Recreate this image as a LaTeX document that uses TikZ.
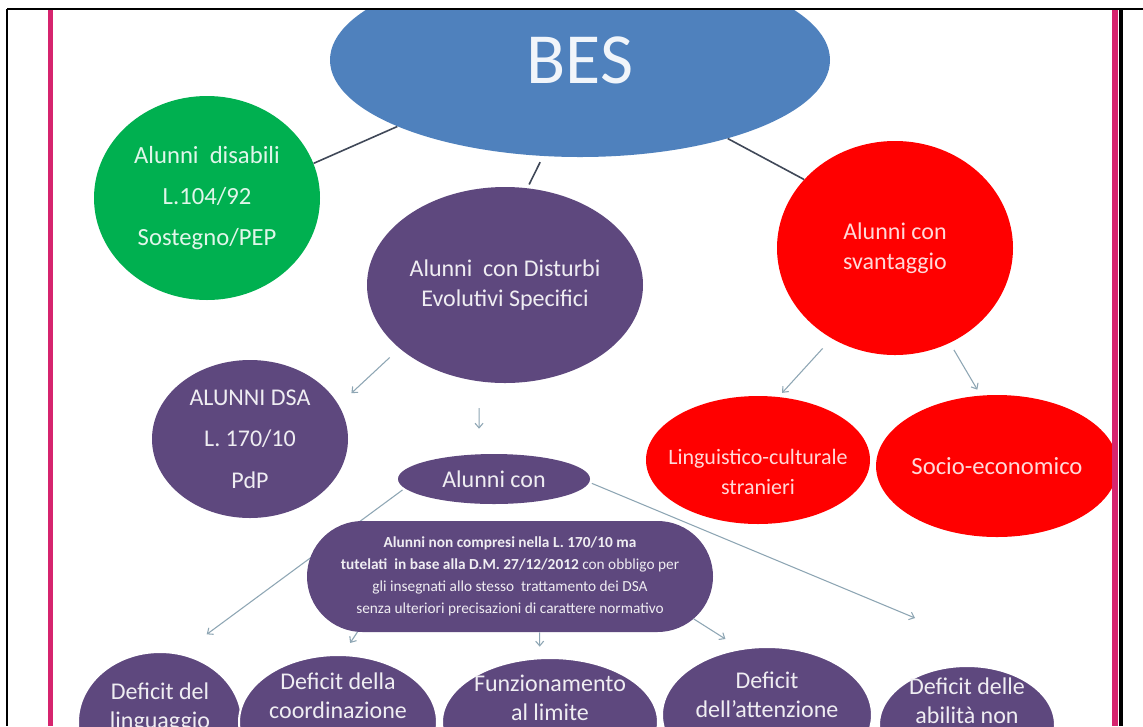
\documentclass[tikz,border=0pt]{standalone}
\usepackage{fontspec}
\setmainfont{Carlito}
\usetikzlibrary{shapes.geometric,shapes.misc,arrows.meta}

\definecolor{besblue}{RGB}{79,129,189}
\definecolor{besgreen}{RGB}{0,176,80}
\definecolor{bespurple}{RGB}{94,72,126}
\definecolor{besred}{RGB}{255,0,0}
\definecolor{framepink}{RGB}{214,36,110}
\definecolor{linkgray}{RGB}{64,72,88}
\definecolor{arrowgray}{RGB}{142,166,180}

\tikzset{
  bubble/.style={ellipse, inner sep=0pt, align=center, font=\fontsize{18}{22.5}\selectfont},
  purplebubble/.style={bubble, fill=bespurple, text=white!90!bespurple},
  redbubble/.style={bubble, fill=besred, text=white!85!besred},
  deficit/.style={purplebubble, draw=white, line width=1.5pt},
  lbl/.style={align=center, font=\fontsize{18}{22}\selectfont, text=white!90!bespurple},
  normbox/.style={rounded rectangle, inner sep=0pt, fill=bespurple, align=center,
    text=white!90!bespurple, font=\fontsize{11.5}{16.5}\selectfont},
  link/.style={draw=linkgray, line width=1.2pt},
  arr/.style={draw=arrowgray, line width=0.8pt, -{Straight Barb[length=3.5pt,width=6pt]}},
}

\begin{document}
\begin{tikzpicture}[x=0.75pt, y=-0.75pt]
  \useasboundingbox (0,0) rectangle (1143,726);
  \fill[white] (0,0) rectangle (1143,726);

  \begin{scope}
    \clip (7,9) rectangle (1121,726);

    \node[bubble, fill=besblue, text=white!92!besblue, minimum width=375pt, minimum height=145.5pt,
          font=\fontsize{54}{60}\selectfont] (bes) at (580,60) {BES};
    \node[bubble, fill=besgreen, text=white!88!besgreen, minimum width=169.5pt, minimum height=153pt,
          font=\fontsize{18.5}{31}\selectfont] (disabili) at (207,198) {Alunni \ disabili\\L.104/92\\Sostegno/PEP};
    \node[purplebubble, minimum width=207pt, minimum height=147pt] (des) at (505,285)
          {Alunni \ con Disturbi\\Evolutivi Specifici};
    \node[redbubble, minimum width=177pt, minimum height=160.5pt] (svantaggio) at (895,248)
          {Alunni con\\svantaggio};
    \node[purplebubble, minimum width=147pt, minimum height=118.5pt,
          font=\fontsize{18}{31}\selectfont] (dsa) at (250,439) {ALUNNI DSA\\L. 170/10\\PdP};
    \node[purplebubble, minimum width=144pt, minimum height=37.5pt] (alunnicon) at (494,479) {Alunni con};
    \node[redbubble, minimum width=168pt, minimum height=96pt,
          label={[lbl, text=white!85!besred, font=\fontsize{16.5}{23}\selectfont, yshift=-9pt]center:{Linguistico-culturale\\stranieri}}]
          (linguistico) at (758,460) {};
    \node[redbubble, font=\fontsize{18.5}{22.5}\selectfont, minimum width=172.5pt, minimum height=106.5pt]
          (socio) at (997,466) {Socio-economico};

    \foreach \nm/\cx/\cy/\w/\h/\up/\txt in {
        linguaggio/160/722/123/105/10.5/{Deficit del\\linguaggio},
        coordinazione/338/722/148.5/100.5/19.5/{Deficit della\\coordinazione},
        funzionamento/550/722/162/96/18/{Funzionamento\\al limite},
        attenzione/767/715/157.5/102/15/{Deficit\\dell’attenzione},
        abilita/967/725/132/88.5/18/{Deficit delle\\abilità non}}{
      \node[deficit, minimum width=\w pt, minimum height=\h pt,
            label={[lbl, yshift=\up pt]center:{\txt}}] (\nm) at (\cx,\cy) {};
    }

    \draw[link] (disabili.18) -- (bes.200);
    \draw[link, shorten <=5pt, shorten >=3pt] (bes.249) -- (des.77);
    \draw[link] (bes.332) -- (svantaggio.143);

    \draw[arr, shorten <=10pt, shorten >=13pt] (des.211) -- (dsa.21);
    \draw[arr, shorten <=20pt, shorten >=19pt] (des.255) -- (alunnicon.121);
    \draw[arr, shorten <=10pt, shorten >=4pt] (svantaggio.235) -- (linguistico.72);
    \draw[arr, shorten <=6pt, shorten >=5pt] (svantaggio.300) -- (socio.103);
    \draw[arr, shorten <=2pt, shorten >=24pt] (alunnicon.186) -- (linguaggio.73);
    \coordinate (abilitatip) at (915,618);
    \draw[arr, shorten <=2pt] (alunnicon.358) -- (abilitatip);

    \node[normbox, minimum width=304.5pt, minimum height=83.25pt] (normativa) at (510,576.5)
      {\textbf{Alunni non compresi nella L. 170/10 ma}\\
       \textbf{tutelati \ in base alla D.M. 27/12/2012} con obbligo per\\
       gli insegnati allo stesso \ trattamento dei DSA\\
       senza ulteriori precisazioni di carattere normativo};

    \draw[arr, shorten >=10pt] (normativa.200) -- (coordinazione.86);
    \draw[arr, shorten >=8pt] (normativa.298) -- (funzionamento.99);
    \draw[arr, shorten >=13pt] (normativa.347) -- (attenzione.112);
  \end{scope}

  \draw[framepink, line width=3.75pt] (50,10) -- (50,726);
  \draw[framepink, line width=5pt] (1115,10) -- (1115,726);
  \draw[black, line width=1.5pt] (7,9) -- (1143,9);
  \draw[black, line width=1.5pt] (7,9) -- (7,726);
  \draw[black, line width=2.5pt] (1121,9) -- (1121,726);
\end{tikzpicture}
\end{document}
